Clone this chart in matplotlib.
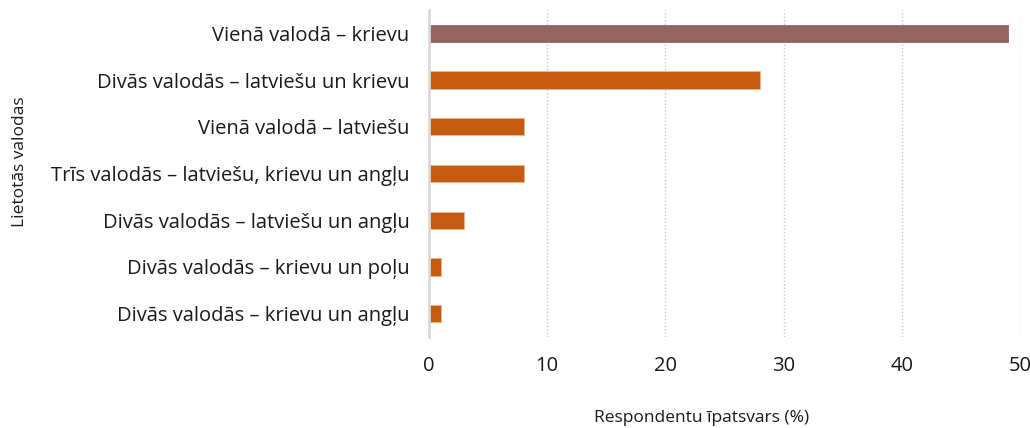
import matplotlib
matplotlib.use("Agg")
import matplotlib.pyplot as plt

categories = [
    "Vienā valodā – krievu",
    "Divās valodās – latviešu un krievu",
    "Vienā valodā – latviešu",
    "Trīs valodās – latviešu, krievu un angļu",
    "Divās valodās – latviešu un angļu",
    "Divās valodās – krievu un poļu",
    "Divās valodās – krievu un angļu",
]
values = [49, 28, 8, 8, 3, 1, 1]
bar_colors = ["#946462", "#c55a11", "#c55a11", "#c55a11", "#c55a11", "#c55a11", "#c55a11"]
edge_colors = ["#946462", "#f0b48a", "#f0b48a", "#f0b48a", "#f0b48a", "#f0b48a", "#f0b48a"]
xticks = [0, 10, 20, 30, 40, 50]

plt.rcParams['font.family'] = ['Open Sans', 'DejaVu Sans']

fig = plt.figure(figsize=(10.30, 4.28), dpi=100)
ax = fig.add_axes([429/1030, 1 - 337/428, (1020-429)/1030, (337-10)/428])

ypos = list(range(len(categories)))
ax.barh(ypos, values, height=0.37, color=bar_colors, edgecolor=edge_colors, linewidth=0.6, zorder=3)
ax.set_ylim(len(categories) - 0.5, -0.5)
ax.set_xlim(0, 50)
ax.set_yticks(ypos)
ax.set_yticklabels(categories, fontsize=14.5, color="#1a1a1a")
ax.set_xticks(xticks)
ax.set_xticklabels([str(t) for t in xticks], fontsize=14.5, color="#1a1a1a")
ax.tick_params(axis='y', length=0, pad=14)
ax.tick_params(axis='x', length=0, pad=14)

for s in ["top", "right", "bottom"]:
    ax.spines[s].set_visible(False)
ax.spines["left"].set_color("#d9d9d9")
ax.spines["left"].set_linewidth(2)
ax.spines["left"].set_zorder(4)

ax.xaxis.grid(True, linestyle=(0, (1, 1.5)), color="#c8c8c8", linewidth=1, zorder=0)
ax.yaxis.grid(False)
ax.set_axisbelow(True)

fig.text(702/1030, 1 - 418/428, "Respondentu īpatsvars (%)", ha="center", va="center", fontsize=12.5, color="#1a1a1a")
fig.text(20/1030, 1 - 162/428, "Lietotās valodas", ha="center", va="center", rotation=90, fontsize=12.5, color="#1a1a1a")

fig.savefig("out.png", dpi=100)
